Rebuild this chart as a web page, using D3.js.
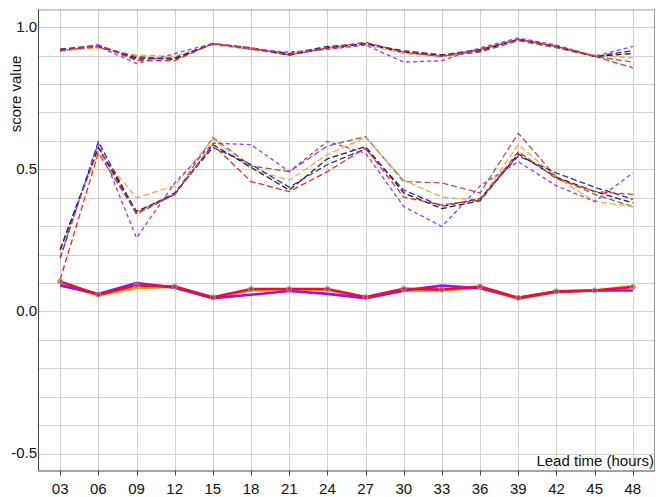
<!DOCTYPE html>
<html>
<head>
<meta charset="utf-8">
<style>
  body { margin: 0; background: #fff; }
  svg { display: block; font-family: "Liberation Sans", Arial, sans-serif; }
  .grid line { stroke: #d0d0d0; stroke-width: 1; shape-rendering: crispEdges; }
  .tick-label { font-size: 15px; fill: #111; }
  .axis-title { font-size: 15px; fill: #111; }
</style>
</head>
<body>
<svg width="656" height="497"></svg>
<script src="https://cdn.jsdelivr.net/npm/d3@7"></script>
<script>
// lead times (hours)
var leadTimes = ["03","06","09","12","15","18","21","24","27","30","33","36","39","42","45","48"];
var yTicks = ["-0.5", "0.0", "0.5", "1.0"];

// upper score (dashed)
var hiPurple = [0.915,0.93,0.87,0.905,0.94,0.92,0.91,0.92,0.935,0.875,0.88,0.925,0.96,0.935,0.895,0.93];
var hiBlue   = [0.92,0.935,0.885,0.89,0.94,0.925,0.905,0.93,0.94,0.915,0.90,0.92,0.955,0.93,0.895,0.915];
var hiBlack  = [0.92,0.93,0.89,0.885,0.94,0.925,0.90,0.925,0.94,0.91,0.90,0.915,0.955,0.93,0.895,0.905];
var hiBrown  = [0.92,0.93,0.895,0.885,0.94,0.92,0.90,0.925,0.94,0.91,0.895,0.91,0.95,0.925,0.895,0.875];
var hiOrange = [0.915,0.925,0.90,0.895,0.935,0.92,0.905,0.92,0.935,0.905,0.895,0.915,0.955,0.93,0.90,0.89];
var hiRed    = [0.915,0.935,0.88,0.88,0.94,0.925,0.90,0.925,0.945,0.91,0.895,0.92,0.955,0.93,0.895,0.855];

// middle score (dashed)
var midPurple = [0.19,0.59,0.257,0.45,0.59,0.585,0.49,0.596,0.555,0.367,0.297,0.44,0.525,0.44,0.385,0.485];
var midBlue   = [0.185,0.595,0.345,0.415,0.575,0.515,0.435,0.515,0.57,0.425,0.368,0.395,0.545,0.485,0.435,0.393];
var midBlack  = [0.215,0.575,0.35,0.41,0.585,0.505,0.425,0.535,0.578,0.415,0.36,0.388,0.552,0.47,0.42,0.38];
var midBrown  = [0.215,0.575,0.34,0.41,0.61,0.51,0.49,0.58,0.613,0.455,0.45,0.415,0.625,0.47,0.41,0.367];
var midOrange = [0.22,0.56,0.398,0.44,0.605,0.50,0.46,0.55,0.61,0.46,0.40,0.39,0.585,0.47,0.385,0.367];
var midRed    = [0.11,0.555,0.345,0.41,0.585,0.455,0.42,0.49,0.573,0.40,0.373,0.39,0.56,0.465,0.42,0.41];

// lower score (solid)
var loPurple = [0.09,0.06,0.098,0.082,0.045,0.057,0.07,0.06,0.045,0.072,0.089,0.08,0.046,0.068,0.072,0.072];
var loOrange = [0.095,0.055,0.08,0.085,0.045,0.072,0.075,0.075,0.045,0.07,0.072,0.082,0.042,0.066,0.072,0.088];
var loRed    = [0.104,0.057,0.09,0.086,0.048,0.077,0.077,0.077,0.049,0.078,0.075,0.086,0.046,0.069,0.072,0.084];

var c = {purple: "#9b35f5", blue: "#2a2f9a", black: "#222222", brown: "#9a5a50", orange: "#f5a544", red: "#e0322a"};

var dashed = [
  [hiBrown, c.brown], [hiOrange, c.orange], [hiBlack, c.black], [hiBlue, c.blue], [hiPurple, c.purple], [hiRed, c.red],
  [midBrown, c.brown], [midOrange, c.orange], [midBlack, c.black], [midBlue, c.blue], [midPurple, c.purple], [midRed, c.red]
];
var solid = [[loOrange, "#ff9c1a"], [loPurple, "#9a10f0"], [loRed, "#e8102a"]];

var svg = d3.select("svg"),
    margin = {top: 9.5, right: 1, bottom: 26.5, left: 38},
    width = +svg.attr("width") - margin.left - margin.right,
    height = +svg.attr("height") - margin.top - margin.bottom;

var step = width / (leadTimes.length - 1 + 1.16);
var x = d3.scaleLinear().domain([0, leadTimes.length - 1]).range([0.58 * step, width - 0.58 * step]);
var y = d3.scaleLinear().domain([-0.561, 1.06]).range([height, 0]);

var g = svg.append("g").attr("transform", "translate(" + margin.left + "," + margin.top + ")");

// grid
var grid = g.append("g").attr("class", "grid");
grid.selectAll(".h").data(d3.range(-5, 11).map(function(d) { return d / 10; }))
  .enter().append("line")
  .attr("x1", 0).attr("x2", width)
  .attr("y1", function(d) { return Math.round(y(d)) + 0.5; })
  .attr("y2", function(d) { return Math.round(y(d)) + 0.5; });
grid.selectAll(".v").data(leadTimes)
  .enter().append("line")
  .attr("y1", 0).attr("y2", height)
  .attr("x1", function(d, i) { return Math.round(x(i)) + 0.5; })
  .attr("x2", function(d, i) { return Math.round(x(i)) + 0.5; });

// frame
g.append("line").attr("x1", 0).attr("x2", width).attr("y1", 0.5).attr("y2", 0.5).attr("stroke", "#999");
g.append("line").attr("x1", width - 0.5).attr("x2", width - 0.5).attr("y1", 0).attr("y2", height).attr("stroke", "#999");

var line = d3.line()
  .x(function(d, i) { return x(i); })
  .y(function(d) { return y(d); });

g.selectAll(".dash").data(dashed).enter().append("path")
  .attr("fill", "none")
  .attr("stroke", function(d) { return d[1]; })
  .attr("stroke-width", 1.3)
  .attr("stroke-dasharray", function(d) { return d[1] === c.purple ? "4,3" : "6,3"; })
  .attr("d", function(d) { return line(d[0]); });

g.selectAll(".solid").data(solid).enter().append("path")
  .attr("fill", "none")
  .attr("stroke", function(d) { return d[1]; })
  .attr("stroke-width", 2.6)
  .attr("stroke-linejoin", "round")
  .attr("d", function(d) { return line(d[0]); });

g.selectAll(".mark").data(loRed).enter().append("circle")
  .attr("cx", function(d, i) { return x(i); })
  .attr("cy", function(d) { return y(d); })
  .attr("r", 2.5)
  .attr("fill", "#c04050")
  .attr("fill-opacity", 0.6)
  .attr("stroke", "#999");

// axes
var xAxis = g.append("g").attr("transform", "translate(0," + height + ")");
xAxis.append("line").attr("x1", 0).attr("x2", width).attr("y1", 0.5).attr("y2", 0.5).attr("stroke", "#444");
xAxis.selectAll(".tk").data(leadTimes).enter().append("line")
  .attr("x1", function(d, i) { return Math.round(x(i)) + 0.5; })
  .attr("x2", function(d, i) { return Math.round(x(i)) + 0.5; })
  .attr("y1", 0).attr("y2", 5).attr("stroke", "#444");
xAxis.selectAll("text").data(leadTimes).enter().append("text")
  .attr("class", "tick-label")
  .attr("x", function(d, i) { return x(i); })
  .attr("y", 23)
  .attr("text-anchor", "middle")
  .text(function(d) { return d; });

var yAxis = g.append("g");
yAxis.append("line").attr("x1", 0.5).attr("x2", 0.5).attr("y1", 0).attr("y2", height).attr("stroke", "#444");
yAxis.selectAll("text").data(yTicks).enter().append("text")
  .attr("class", "tick-label")
  .attr("x", -1)
  .attr("y", function(d) { return y(+d) + 5; })
  .attr("text-anchor", "end")
  .text(function(d) { return d; });

g.append("text").attr("class", "axis-title")
  .attr("transform", "translate(-17," + (94 - margin.top) + ") rotate(-90)")
  .attr("text-anchor", "middle")
  .text("score value");

g.append("text").attr("class", "axis-title")
  .attr("x", width - 1).attr("y", height - 5)
  .attr("text-anchor", "end")
  .text("Lead time (hours)");
</script>
</body>
</html>
